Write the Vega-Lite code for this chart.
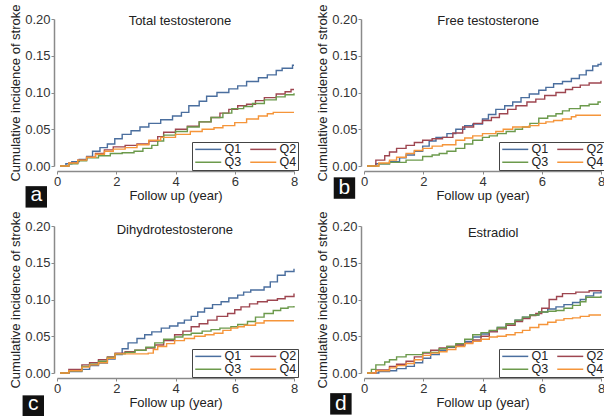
{
"$schema": "https://vega.github.io/schema/vega-lite/v6.json",
"padding": {"left": 9, "top": 3, "right": 0, "bottom": 0},
"background": "white",
"config": {
 "view": {"stroke": null},
 "font": "Liberation Sans",
 "axis": {"grid": false, "domainColor": "#8a8a8a", "domainWidth": 1.5, "tickColor": "#8a8a8a", "tickSize": 3, "tickWidth": 1, "labelFont": "Liberation Sans", "labelFontSize": 13, "labelColor": "#333333", "labelPadding": 1, "labelOverlap": false, "titleFont": "Liberation Sans", "titleFontSize": 13, "titleFontWeight": "normal", "titleColor": "#222222"},
 "axisX": {"offset": 5, "titlePadding": 1, "labelFlush": false},
 "axisY": {"offset": 3, "titlePadding": 2, "labelFlush": false},
 "legend": {"orient": "bottom-right", "offset": -4, "columns": 2, "direction": "horizontal", "symbolType": "M-1,0H5.5", "symbolSize": 64, "symbolStrokeWidth": 1.5, "labelFont": "Liberation Sans", "labelFontSize": 12.5, "labelColor": "#222222", "labelOffset": 19, "strokeColor": "#444444", "fillColor": "white", "padding": 1, "rowPadding": 0, "columnPadding": 5, "title": null}
},
"datasets": {
 "a": [
  {"g":"Q1","t":0.1,"v":0},{"g":"Q1","t":0.3,"v":0.003},{"g":"Q1","t":0.5,"v":0.006},{"g":"Q1","t":0.75,"v":0.009},{"g":"Q1","t":1.0,"v":0.013},{"g":"Q1","t":1.2,"v":0.02},{"g":"Q1","t":1.45,"v":0.025},{"g":"Q1","t":1.7,"v":0.03},{"g":"Q1","t":1.95,"v":0.037},{"g":"Q1","t":2.2,"v":0.043},{"g":"Q1","t":2.5,"v":0.048},{"g":"Q1","t":2.8,"v":0.053},{"g":"Q1","t":3.1,"v":0.058},{"g":"Q1","t":3.5,"v":0.063},{"g":"Q1","t":3.9,"v":0.068},{"g":"Q1","t":4.2,"v":0.073},{"g":"Q1","t":4.45,"v":0.082},{"g":"Q1","t":4.8,"v":0.088},{"g":"Q1","t":5.05,"v":0.095},{"g":"Q1","t":5.4,"v":0.1},{"g":"Q1","t":5.8,"v":0.105},{"g":"Q1","t":6.1,"v":0.109},{"g":"Q1","t":6.4,"v":0.115},{"g":"Q1","t":6.8,"v":0.12},{"g":"Q1","t":7.1,"v":0.124},{"g":"Q1","t":7.4,"v":0.13},{"g":"Q1","t":7.6,"v":0.133},{"g":"Q1","t":7.95,"v":0.137},{"g":"Q1","t":8,"v":0.137},
  {"g":"Q2","t":0.1,"v":0},{"g":"Q2","t":0.4,"v":0.004},{"g":"Q2","t":0.7,"v":0.008},{"g":"Q2","t":1.0,"v":0.012},{"g":"Q2","t":1.3,"v":0.017},{"g":"Q2","t":1.6,"v":0.022},{"g":"Q2","t":1.9,"v":0.026},{"g":"Q2","t":2.3,"v":0.028},{"g":"Q2","t":2.7,"v":0.03},{"g":"Q2","t":3.1,"v":0.034},{"g":"Q2","t":3.4,"v":0.04},{"g":"Q2","t":3.6,"v":0.046},{"g":"Q2","t":4.0,"v":0.05},{"g":"Q2","t":4.4,"v":0.054},{"g":"Q2","t":4.8,"v":0.06},{"g":"Q2","t":5.2,"v":0.066},{"g":"Q2","t":5.5,"v":0.072},{"g":"Q2","t":5.8,"v":0.077},{"g":"Q2","t":6.1,"v":0.082},{"g":"Q2","t":6.4,"v":0.084},{"g":"Q2","t":6.7,"v":0.089},{"g":"Q2","t":7.0,"v":0.093},{"g":"Q2","t":7.4,"v":0.098},{"g":"Q2","t":7.7,"v":0.101},{"g":"Q2","t":7.9,"v":0.104},{"g":"Q2","t":8,"v":0.104},
  {"g":"Q3","t":0.1,"v":0},{"g":"Q3","t":0.4,"v":0.003},{"g":"Q3","t":0.7,"v":0.007},{"g":"Q3","t":1.0,"v":0.011},{"g":"Q3","t":1.4,"v":0.014},{"g":"Q3","t":1.8,"v":0.017},{"g":"Q3","t":2.2,"v":0.018},{"g":"Q3","t":2.6,"v":0.02},{"g":"Q3","t":2.9,"v":0.024},{"g":"Q3","t":3.2,"v":0.028},{"g":"Q3","t":3.4,"v":0.034},{"g":"Q3","t":3.6,"v":0.042},{"g":"Q3","t":4.0,"v":0.047},{"g":"Q3","t":4.4,"v":0.053},{"g":"Q3","t":4.8,"v":0.06},{"g":"Q3","t":5.2,"v":0.066},{"g":"Q3","t":5.6,"v":0.072},{"g":"Q3","t":5.9,"v":0.078},{"g":"Q3","t":6.3,"v":0.081},{"g":"Q3","t":6.6,"v":0.085},{"g":"Q3","t":7.0,"v":0.09},{"g":"Q3","t":7.4,"v":0.094},{"g":"Q3","t":7.7,"v":0.097},{"g":"Q3","t":8,"v":0.099},
  {"g":"Q4","t":0.1,"v":0},{"g":"Q4","t":0.4,"v":0.004},{"g":"Q4","t":0.7,"v":0.008},{"g":"Q4","t":1.0,"v":0.012},{"g":"Q4","t":1.3,"v":0.016},{"g":"Q4","t":1.6,"v":0.02},{"g":"Q4","t":1.9,"v":0.023},{"g":"Q4","t":2.3,"v":0.025},{"g":"Q4","t":2.7,"v":0.029},{"g":"Q4","t":3.1,"v":0.035},{"g":"Q4","t":3.5,"v":0.039},{"g":"Q4","t":4.0,"v":0.043},{"g":"Q4","t":4.5,"v":0.047},{"g":"Q4","t":4.9,"v":0.05},{"g":"Q4","t":5.3,"v":0.052},{"g":"Q4","t":5.6,"v":0.055},{"g":"Q4","t":6.0,"v":0.059},{"g":"Q4","t":6.4,"v":0.064},{"g":"Q4","t":6.8,"v":0.068},{"g":"Q4","t":7.1,"v":0.071},{"g":"Q4","t":7.3,"v":0.073},{"g":"Q4","t":8,"v":0.073}
 ],
 "b": [
  {"g":"Q1","t":0.1,"v":0},{"g":"Q1","t":0.4,"v":0.003},{"g":"Q1","t":0.86,"v":0.006},{"g":"Q1","t":1.2,"v":0.011},{"g":"Q1","t":1.42,"v":0.015},{"g":"Q1","t":1.7,"v":0.02},{"g":"Q1","t":1.98,"v":0.027},{"g":"Q1","t":2.2,"v":0.034},{"g":"Q1","t":2.43,"v":0.039},{"g":"Q1","t":2.8,"v":0.044},{"g":"Q1","t":3.1,"v":0.05},{"g":"Q1","t":3.4,"v":0.055},{"g":"Q1","t":3.67,"v":0.057},{"g":"Q1","t":4.0,"v":0.064},{"g":"Q1","t":4.2,"v":0.07},{"g":"Q1","t":4.45,"v":0.077},{"g":"Q1","t":4.75,"v":0.082},{"g":"Q1","t":5.02,"v":0.087},{"g":"Q1","t":5.3,"v":0.093},{"g":"Q1","t":5.58,"v":0.098},{"g":"Q1","t":5.9,"v":0.103},{"g":"Q1","t":6.14,"v":0.107},{"g":"Q1","t":6.4,"v":0.112},{"g":"Q1","t":6.7,"v":0.115},{"g":"Q1","t":7.0,"v":0.119},{"g":"Q1","t":7.27,"v":0.124},{"g":"Q1","t":7.5,"v":0.13},{"g":"Q1","t":7.72,"v":0.136},{"g":"Q1","t":7.9,"v":0.138},{"g":"Q1","t":8,"v":0.141},
  {"g":"Q2","t":0.1,"v":0},{"g":"Q2","t":0.4,"v":0.008},{"g":"Q2","t":0.7,"v":0.014},{"g":"Q2","t":0.86,"v":0.019},{"g":"Q2","t":1.1,"v":0.024},{"g":"Q2","t":1.42,"v":0.028},{"g":"Q2","t":1.7,"v":0.032},{"g":"Q2","t":1.98,"v":0.035},{"g":"Q2","t":2.3,"v":0.037},{"g":"Q2","t":2.65,"v":0.039},{"g":"Q2","t":3.0,"v":0.045},{"g":"Q2","t":3.33,"v":0.053},{"g":"Q2","t":3.7,"v":0.058},{"g":"Q2","t":4.0,"v":0.062},{"g":"Q2","t":4.3,"v":0.066},{"g":"Q2","t":4.57,"v":0.071},{"g":"Q2","t":4.85,"v":0.077},{"g":"Q2","t":5.13,"v":0.082},{"g":"Q2","t":5.5,"v":0.087},{"g":"Q2","t":5.8,"v":0.091},{"g":"Q2","t":6.1,"v":0.096},{"g":"Q2","t":6.48,"v":0.1},{"g":"Q2","t":6.8,"v":0.104},{"g":"Q2","t":7.04,"v":0.107},{"g":"Q2","t":7.3,"v":0.11},{"g":"Q2","t":7.6,"v":0.113},{"g":"Q2","t":8,"v":0.116},
  {"g":"Q3","t":0.1,"v":0},{"g":"Q3","t":0.5,"v":0.003},{"g":"Q3","t":0.86,"v":0.005},{"g":"Q3","t":1.42,"v":0.008},{"g":"Q3","t":1.98,"v":0.013},{"g":"Q3","t":2.3,"v":0.015},{"g":"Q3","t":2.54,"v":0.017},{"g":"Q3","t":2.8,"v":0.02},{"g":"Q3","t":3.1,"v":0.024},{"g":"Q3","t":3.4,"v":0.03},{"g":"Q3","t":3.67,"v":0.035},{"g":"Q3","t":4.0,"v":0.039},{"g":"Q3","t":4.23,"v":0.041},{"g":"Q3","t":4.5,"v":0.044},{"g":"Q3","t":4.8,"v":0.047},{"g":"Q3","t":5.1,"v":0.05},{"g":"Q3","t":5.35,"v":0.053},{"g":"Q3","t":5.6,"v":0.058},{"g":"Q3","t":5.9,"v":0.065},{"g":"Q3","t":6.2,"v":0.068},{"g":"Q3","t":6.48,"v":0.071},{"g":"Q3","t":6.7,"v":0.075},{"g":"Q3","t":6.93,"v":0.078},{"g":"Q3","t":7.3,"v":0.082},{"g":"Q3","t":7.6,"v":0.084},{"g":"Q3","t":7.9,"v":0.087},{"g":"Q3","t":8,"v":0.087},
  {"g":"Q4","t":0.1,"v":0},{"g":"Q4","t":0.5,"v":0.004},{"g":"Q4","t":0.86,"v":0.008},{"g":"Q4","t":1.1,"v":0.012},{"g":"Q4","t":1.42,"v":0.017},{"g":"Q4","t":1.7,"v":0.021},{"g":"Q4","t":1.98,"v":0.024},{"g":"Q4","t":2.3,"v":0.027},{"g":"Q4","t":2.65,"v":0.029},{"g":"Q4","t":3.1,"v":0.035},{"g":"Q4","t":3.4,"v":0.038},{"g":"Q4","t":3.67,"v":0.041},{"g":"Q4","t":4.0,"v":0.044},{"g":"Q4","t":4.45,"v":0.047},{"g":"Q4","t":4.7,"v":0.05},{"g":"Q4","t":5.02,"v":0.053},{"g":"Q4","t":5.58,"v":0.055},{"g":"Q4","t":5.9,"v":0.058},{"g":"Q4","t":6.14,"v":0.06},{"g":"Q4","t":6.4,"v":0.062},{"g":"Q4","t":6.7,"v":0.064},{"g":"Q4","t":7.0,"v":0.067},{"g":"Q4","t":7.15,"v":0.069},{"g":"Q4","t":8,"v":0.069}
 ],
 "c": [
  {"g":"Q1","t":0.1,"v":0},{"g":"Q1","t":0.4,"v":0.002},{"g":"Q1","t":0.84,"v":0.005},{"g":"Q1","t":1.1,"v":0.01},{"g":"Q1","t":1.4,"v":0.0135},{"g":"Q1","t":1.7,"v":0.019},{"g":"Q1","t":1.96,"v":0.025},{"g":"Q1","t":2.2,"v":0.033},{"g":"Q1","t":2.4,"v":0.041},{"g":"Q1","t":2.7,"v":0.047},{"g":"Q1","t":2.96,"v":0.052},{"g":"Q1","t":3.2,"v":0.056},{"g":"Q1","t":3.52,"v":0.061},{"g":"Q1","t":3.8,"v":0.064},{"g":"Q1","t":4.08,"v":0.068},{"g":"Q1","t":4.3,"v":0.072},{"g":"Q1","t":4.53,"v":0.077},{"g":"Q1","t":4.75,"v":0.083},{"g":"Q1","t":4.98,"v":0.088},{"g":"Q1","t":5.25,"v":0.093},{"g":"Q1","t":5.54,"v":0.097},{"g":"Q1","t":5.8,"v":0.102},{"g":"Q1","t":6.1,"v":0.106},{"g":"Q1","t":6.3,"v":0.11},{"g":"Q1","t":6.54,"v":0.113},{"g":"Q1","t":6.99,"v":0.117},{"g":"Q1","t":7.2,"v":0.124},{"g":"Q1","t":7.44,"v":0.133},{"g":"Q1","t":7.7,"v":0.138},{"g":"Q1","t":8,"v":0.142},
  {"g":"Q2","t":0.1,"v":0},{"g":"Q2","t":0.4,"v":0.005},{"g":"Q2","t":0.84,"v":0.011},{"g":"Q2","t":1.1,"v":0.014},{"g":"Q2","t":1.4,"v":0.018},{"g":"Q2","t":1.7,"v":0.022},{"g":"Q2","t":1.96,"v":0.027},{"g":"Q2","t":2.3,"v":0.029},{"g":"Q2","t":2.63,"v":0.031},{"g":"Q2","t":3.0,"v":0.034},{"g":"Q2","t":3.3,"v":0.038},{"g":"Q2","t":3.6,"v":0.044},{"g":"Q2","t":3.97,"v":0.052},{"g":"Q2","t":4.25,"v":0.057},{"g":"Q2","t":4.53,"v":0.063},{"g":"Q2","t":4.8,"v":0.067},{"g":"Q2","t":5.09,"v":0.072},{"g":"Q2","t":5.4,"v":0.077},{"g":"Q2","t":5.76,"v":0.081},{"g":"Q2","t":6.0,"v":0.086},{"g":"Q2","t":6.21,"v":0.09},{"g":"Q2","t":6.5,"v":0.094},{"g":"Q2","t":6.77,"v":0.097},{"g":"Q2","t":7.1,"v":0.099},{"g":"Q2","t":7.44,"v":0.101},{"g":"Q2","t":7.7,"v":0.104},{"g":"Q2","t":8,"v":0.108},
  {"g":"Q3","t":0.1,"v":0},{"g":"Q3","t":0.4,"v":0.003},{"g":"Q3","t":0.84,"v":0.009},{"g":"Q3","t":1.1,"v":0.012},{"g":"Q3","t":1.4,"v":0.016},{"g":"Q3","t":1.7,"v":0.021},{"g":"Q3","t":1.96,"v":0.026},{"g":"Q3","t":2.3,"v":0.028},{"g":"Q3","t":2.63,"v":0.031},{"g":"Q3","t":3.0,"v":0.035},{"g":"Q3","t":3.3,"v":0.041},{"g":"Q3","t":3.6,"v":0.046},{"g":"Q3","t":3.97,"v":0.049},{"g":"Q3","t":4.25,"v":0.052},{"g":"Q3","t":4.53,"v":0.054},{"g":"Q3","t":4.9,"v":0.057},{"g":"Q3","t":5.2,"v":0.059},{"g":"Q3","t":5.5,"v":0.061},{"g":"Q3","t":5.87,"v":0.063},{"g":"Q3","t":6.1,"v":0.066},{"g":"Q3","t":6.43,"v":0.07},{"g":"Q3","t":6.7,"v":0.076},{"g":"Q3","t":6.99,"v":0.081},{"g":"Q3","t":7.3,"v":0.085},{"g":"Q3","t":7.55,"v":0.088},{"g":"Q3","t":7.8,"v":0.09},{"g":"Q3","t":8,"v":0.091},
  {"g":"Q4","t":0.1,"v":0},{"g":"Q4","t":0.4,"v":0.003},{"g":"Q4","t":0.84,"v":0.008},{"g":"Q4","t":1.1,"v":0.011},{"g":"Q4","t":1.4,"v":0.014},{"g":"Q4","t":1.7,"v":0.02},{"g":"Q4","t":1.96,"v":0.026},{"g":"Q4","t":2.63,"v":0.026},{"g":"Q4","t":3.08,"v":0.027},{"g":"Q4","t":3.25,"v":0.032},{"g":"Q4","t":3.4,"v":0.036},{"g":"Q4","t":3.7,"v":0.04},{"g":"Q4","t":3.97,"v":0.044},{"g":"Q4","t":4.3,"v":0.047},{"g":"Q4","t":4.64,"v":0.05},{"g":"Q4","t":5.0,"v":0.052},{"g":"Q4","t":5.3,"v":0.054},{"g":"Q4","t":5.6,"v":0.058},{"g":"Q4","t":5.87,"v":0.061},{"g":"Q4","t":6.1,"v":0.063},{"g":"Q4","t":6.32,"v":0.065},{"g":"Q4","t":6.7,"v":0.068},{"g":"Q4","t":6.99,"v":0.071},{"g":"Q4","t":8,"v":0.071}
 ],
 "d": [
  {"g":"Q1","t":0.1,"v":0},{"g":"Q1","t":0.5,"v":0.002},{"g":"Q1","t":0.86,"v":0.003},{"g":"Q1","t":1.1,"v":0.006},{"g":"Q1","t":1.42,"v":0.009},{"g":"Q1","t":1.7,"v":0.014},{"g":"Q1","t":1.98,"v":0.02},{"g":"Q1","t":2.25,"v":0.025},{"g":"Q1","t":2.54,"v":0.031},{"g":"Q1","t":2.8,"v":0.035},{"g":"Q1","t":3.1,"v":0.038},{"g":"Q1","t":3.4,"v":0.043},{"g":"Q1","t":3.67,"v":0.049},{"g":"Q1","t":3.95,"v":0.053},{"g":"Q1","t":4.23,"v":0.057},{"g":"Q1","t":4.5,"v":0.062},{"g":"Q1","t":4.8,"v":0.067},{"g":"Q1","t":5.1,"v":0.072},{"g":"Q1","t":5.35,"v":0.076},{"g":"Q1","t":5.6,"v":0.079},{"g":"Q1","t":5.9,"v":0.083},{"g":"Q1","t":6.2,"v":0.087},{"g":"Q1","t":6.48,"v":0.09},{"g":"Q1","t":6.75,"v":0.093},{"g":"Q1","t":7.04,"v":0.096},{"g":"Q1","t":7.3,"v":0.1},{"g":"Q1","t":7.49,"v":0.105},{"g":"Q1","t":7.75,"v":0.109},{"g":"Q1","t":8,"v":0.112},
  {"g":"Q2","t":0.1,"v":0},{"g":"Q2","t":0.4,"v":0.004},{"g":"Q2","t":0.86,"v":0.009},{"g":"Q2","t":1.1,"v":0.012},{"g":"Q2","t":1.42,"v":0.016},{"g":"Q2","t":1.7,"v":0.022},{"g":"Q2","t":1.98,"v":0.027},{"g":"Q2","t":2.25,"v":0.031},{"g":"Q2","t":2.54,"v":0.034},{"g":"Q2","t":2.8,"v":0.036},{"g":"Q2","t":3.1,"v":0.038},{"g":"Q2","t":3.4,"v":0.041},{"g":"Q2","t":3.67,"v":0.045},{"g":"Q2","t":3.95,"v":0.05},{"g":"Q2","t":4.23,"v":0.056},{"g":"Q2","t":4.5,"v":0.06},{"g":"Q2","t":4.8,"v":0.065},{"g":"Q2","t":5.1,"v":0.07},{"g":"Q2","t":5.35,"v":0.074},{"g":"Q2","t":5.6,"v":0.078},{"g":"Q2","t":5.8,"v":0.081},{"g":"Q2","t":6.0,"v":0.088},{"g":"Q2","t":6.25,"v":0.1},{"g":"Q2","t":6.5,"v":0.104},{"g":"Q2","t":6.7,"v":0.108},{"g":"Q2","t":7.15,"v":0.11},{"g":"Q2","t":7.6,"v":0.112},{"g":"Q2","t":8,"v":0.113},
  {"g":"Q3","t":0.1,"v":0},{"g":"Q3","t":0.25,"v":0.005},{"g":"Q3","t":0.4,"v":0.011},{"g":"Q3","t":0.7,"v":0.015},{"g":"Q3","t":0.86,"v":0.018},{"g":"Q3","t":1.1,"v":0.022},{"g":"Q3","t":1.42,"v":0.025},{"g":"Q3","t":1.98,"v":0.028},{"g":"Q3","t":2.54,"v":0.033},{"g":"Q3","t":2.8,"v":0.036},{"g":"Q3","t":3.1,"v":0.04},{"g":"Q3","t":3.4,"v":0.046},{"g":"Q3","t":3.67,"v":0.052},{"g":"Q3","t":3.95,"v":0.055},{"g":"Q3","t":4.23,"v":0.058},{"g":"Q3","t":4.5,"v":0.062},{"g":"Q3","t":4.8,"v":0.067},{"g":"Q3","t":5.1,"v":0.072},{"g":"Q3","t":5.35,"v":0.076},{"g":"Q3","t":5.6,"v":0.079},{"g":"Q3","t":5.9,"v":0.083},{"g":"Q3","t":6.2,"v":0.084},{"g":"Q3","t":6.48,"v":0.085},{"g":"Q3","t":6.75,"v":0.088},{"g":"Q3","t":7.04,"v":0.092},{"g":"Q3","t":7.3,"v":0.097},{"g":"Q3","t":7.49,"v":0.103},{"g":"Q3","t":8,"v":0.105},
  {"g":"Q4","t":0.1,"v":0},{"g":"Q4","t":0.4,"v":0.003},{"g":"Q4","t":0.86,"v":0.007},{"g":"Q4","t":1.1,"v":0.01},{"g":"Q4","t":1.42,"v":0.013},{"g":"Q4","t":1.7,"v":0.018},{"g":"Q4","t":1.98,"v":0.024},{"g":"Q4","t":2.25,"v":0.027},{"g":"Q4","t":2.54,"v":0.029},{"g":"Q4","t":2.8,"v":0.032},{"g":"Q4","t":3.1,"v":0.036},{"g":"Q4","t":3.4,"v":0.04},{"g":"Q4","t":3.67,"v":0.043},{"g":"Q4","t":3.95,"v":0.046},{"g":"Q4","t":4.23,"v":0.049},{"g":"Q4","t":4.5,"v":0.05},{"g":"Q4","t":4.8,"v":0.052},{"g":"Q4","t":5.1,"v":0.055},{"g":"Q4","t":5.35,"v":0.058},{"g":"Q4","t":5.6,"v":0.062},{"g":"Q4","t":5.9,"v":0.066},{"g":"Q4","t":6.2,"v":0.069},{"g":"Q4","t":6.48,"v":0.072},{"g":"Q4","t":6.75,"v":0.074},{"g":"Q4","t":7.04,"v":0.075},{"g":"Q4","t":7.3,"v":0.077},{"g":"Q4","t":7.6,"v":0.079},{"g":"Q4","t":8,"v":0.079}
 ]
},
"columns": 2,
"spacing": {"row": 60, "column": 70},
"bounds": "flush",
"resolve": {"legend": {"color": "independent"}},
"concat": [
 {"width": 237, "height": 147, "layer": [
  {"data": {"name": "a"}, "mark": {"type": "line", "interpolate": "step-after", "strokeWidth": 1.4},
   "encoding": {
    "x": {"field": "t", "type": "quantitative", "scale": {"domain": [0, 8]}, "axis": {"values": [0, 2, 4, 6, 8], "labelOverlap": false}, "title": "Follow up (year)"},
    "y": {"field": "v", "type": "quantitative", "scale": {"domain": [0, 0.2]}, "axis": {"values": [0, 0.05, 0.1, 0.15, 0.2], "format": ".2f", "labelOverlap": false, "tickCount": 5}, "title": "Cumulative incidence of stroke"},
    "color": {"field": "g", "type": "nominal", "scale": {"domain": ["Q1", "Q2", "Q3", "Q4"], "range": ["#4a6e9e", "#9e4650", "#6c9a4c", "#f5953a"]}}}},
  {"data": {"values": [{"label": "Total testosterone"}]}, "mark": {"type": "text", "fontSize": 13, "color": "#222222", "baseline": "middle"}, "encoding": {"x": {"datum": 4.15, "type": "quantitative"}, "y": {"datum": 0.197, "type": "quantitative"}, "text": {"field": "label"}}},
  {"data": {"values": [{"label": "a"}]}, "mark": {"type": "point", "shape": "square", "filled": true, "color": "#111111", "opacity": 1, "size": 460}, "encoding": {"x": {"datum": -0.7, "type": "quantitative"}, "y": {"datum": -0.042, "type": "quantitative"}}},
  {"data": {"values": [{"label": "a"}]}, "mark": {"type": "text", "fontSize": 21, "color": "white", "baseline": "middle", "dy": -2}, "encoding": {"x": {"datum": -0.7, "type": "quantitative"}, "y": {"datum": -0.042, "type": "quantitative"}, "text": {"field": "label"}}}
 ]},
 {"width": 237, "height": 147, "layer": [
  {"data": {"name": "b"}, "mark": {"type": "line", "interpolate": "step-after", "strokeWidth": 1.4},
   "encoding": {
    "x": {"field": "t", "type": "quantitative", "scale": {"domain": [0, 8]}, "axis": {"values": [0, 2, 4, 6, 8], "labelOverlap": false}, "title": "Follow up (year)"},
    "y": {"field": "v", "type": "quantitative", "scale": {"domain": [0, 0.2]}, "axis": {"values": [0, 0.05, 0.1, 0.15, 0.2], "format": ".2f", "labelOverlap": false, "tickCount": 5}, "title": "Cumulative incidence of stroke"},
    "color": {"field": "g", "type": "nominal", "scale": {"domain": ["Q1", "Q2", "Q3", "Q4"], "range": ["#4a6e9e", "#9e4650", "#6c9a4c", "#f5953a"]}}}},
  {"data": {"values": [{"label": "Free testosterone"}]}, "mark": {"type": "text", "fontSize": 13, "color": "#222222", "baseline": "middle"}, "encoding": {"x": {"datum": 4.19, "type": "quantitative"}, "y": {"datum": 0.197, "type": "quantitative"}, "text": {"field": "label"}}},
  {"data": {"values": [{"label": "b"}]}, "mark": {"type": "point", "shape": "square", "filled": true, "color": "#111111", "opacity": 1, "size": 460}, "encoding": {"x": {"datum": -0.66, "type": "quantitative"}, "y": {"datum": -0.03, "type": "quantitative"}}},
  {"data": {"values": [{"label": "b"}]}, "mark": {"type": "text", "fontSize": 21, "color": "white", "baseline": "middle", "dy": 0}, "encoding": {"x": {"datum": -0.66, "type": "quantitative"}, "y": {"datum": -0.03, "type": "quantitative"}, "text": {"field": "label"}}}
 ]},
 {"width": 237, "height": 147, "layer": [
  {"data": {"name": "c"}, "mark": {"type": "line", "interpolate": "step-after", "strokeWidth": 1.4},
   "encoding": {
    "x": {"field": "t", "type": "quantitative", "scale": {"domain": [0, 8]}, "axis": {"values": [0, 2, 4, 6, 8], "labelOverlap": false}, "title": "Follow up (year)"},
    "y": {"field": "v", "type": "quantitative", "scale": {"domain": [0, 0.2]}, "axis": {"values": [0, 0.05, 0.1, 0.15, 0.2], "format": ".2f", "labelOverlap": false, "tickCount": 5}, "title": "Cumulative incidence of stroke"},
    "color": {"field": "g", "type": "nominal", "scale": {"domain": ["Q1", "Q2", "Q3", "Q4"], "range": ["#4a6e9e", "#9e4650", "#6c9a4c", "#f5953a"]}}}},
  {"data": {"values": [{"label": "Dihydrotestosterone"}]}, "mark": {"type": "text", "fontSize": 13, "color": "#222222", "baseline": "middle"}, "encoding": {"x": {"datum": 3.98, "type": "quantitative"}, "y": {"datum": 0.195, "type": "quantitative"}, "text": {"field": "label"}}},
  {"data": {"values": [{"label": "c"}]}, "mark": {"type": "point", "shape": "square", "filled": true, "color": "#111111", "opacity": 1, "size": 460}, "encoding": {"x": {"datum": -0.8, "type": "quantitative"}, "y": {"datum": -0.045, "type": "quantitative"}}},
  {"data": {"values": [{"label": "c"}]}, "mark": {"type": "text", "fontSize": 21, "color": "white", "baseline": "middle", "dy": -2}, "encoding": {"x": {"datum": -0.8, "type": "quantitative"}, "y": {"datum": -0.045, "type": "quantitative"}, "text": {"field": "label"}}}
 ]},
 {"width": 237, "height": 147, "layer": [
  {"data": {"name": "d"}, "mark": {"type": "line", "interpolate": "step-after", "strokeWidth": 1.4},
   "encoding": {
    "x": {"field": "t", "type": "quantitative", "scale": {"domain": [0, 8]}, "axis": {"values": [0, 2, 4, 6, 8], "labelOverlap": false}, "title": "Follow up (year)"},
    "y": {"field": "v", "type": "quantitative", "scale": {"domain": [0, 0.2]}, "axis": {"values": [0, 0.05, 0.1, 0.15, 0.2], "format": ".2f", "labelOverlap": false, "tickCount": 5}, "title": "Cumulative incidence of stroke"},
    "color": {"field": "g", "type": "nominal", "scale": {"domain": ["Q1", "Q2", "Q3", "Q4"], "range": ["#4a6e9e", "#9e4650", "#6c9a4c", "#f5953a"]}}}},
  {"data": {"values": [{"label": "Estradiol"}]}, "mark": {"type": "text", "fontSize": 13, "color": "#222222", "baseline": "middle"}, "encoding": {"x": {"datum": 4.36, "type": "quantitative"}, "y": {"datum": 0.19, "type": "quantitative"}, "text": {"field": "label"}}},
  {"data": {"values": [{"label": "d"}]}, "mark": {"type": "point", "shape": "square", "filled": true, "color": "#111111", "opacity": 1, "size": 460}, "encoding": {"x": {"datum": -0.78, "type": "quantitative"}, "y": {"datum": -0.042, "type": "quantitative"}}},
  {"data": {"values": [{"label": "d"}]}, "mark": {"type": "text", "fontSize": 21, "color": "white", "baseline": "middle", "dy": 0}, "encoding": {"x": {"datum": -0.78, "type": "quantitative"}, "y": {"datum": -0.042, "type": "quantitative"}, "text": {"field": "label"}}}
 ]}
]
}
